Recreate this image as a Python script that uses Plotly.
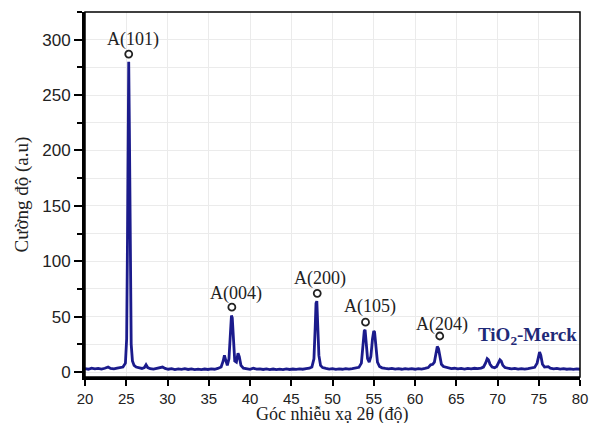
import plotly.graph_objects as go

two_theta = [20.0, 20.4, 20.8, 21.2, 21.6, 22.0, 22.4, 22.8, 23.1, 23.5, 23.9, 24.3, 24.6, 24.9, 25.05, 25.15, 25.25, 25.3, 25.38, 25.48, 25.6, 25.75, 25.95, 26.2, 26.5, 26.9, 27.2, 27.4, 27.6, 27.9, 28.3, 28.7, 29.1, 29.4, 29.7, 30.1, 30.5, 30.9, 31.3, 31.7, 32.1, 32.5, 32.9, 33.3, 33.7, 34.1, 34.5, 34.9, 35.3, 35.7, 36.1, 36.5, 36.75, 36.9, 37.05, 37.25, 37.45, 37.6, 37.75, 37.85, 38.0, 38.15, 38.35, 38.55, 38.7, 38.9, 39.2, 39.6, 40.0, 40.4, 40.8, 41.2, 41.6, 42.0, 42.4, 42.8, 43.2, 43.6, 44.0, 44.4, 44.8, 45.2, 45.6, 46.0, 46.4, 46.8, 47.2, 47.5, 47.75, 47.9, 48.0, 48.1, 48.2, 48.35, 48.55, 48.8, 49.2, 49.6, 50.0, 50.4, 50.8, 51.2, 51.6, 52.0, 52.4, 52.8, 53.2, 53.5, 53.7, 53.85, 53.95, 54.1, 54.25, 54.45, 54.65, 54.85, 55.0, 55.1, 55.25, 55.45, 55.7, 56.0, 56.4, 56.8, 57.2, 57.6, 58.0, 58.4, 58.8, 59.2, 59.6, 60.0, 60.4, 60.8, 61.2, 61.6, 61.9, 62.15, 62.35, 62.55, 62.7, 62.85, 63.0, 63.2, 63.45, 63.7, 64.0, 64.4, 64.8, 65.2, 65.6, 66.0, 66.4, 66.8, 67.2, 67.6, 68.0, 68.3, 68.55, 68.75, 68.9, 69.1, 69.35, 69.65, 69.9, 70.1, 70.3, 70.45, 70.65, 70.9, 71.3, 71.7, 72.1, 72.5, 72.9, 73.3, 73.7, 74.1, 74.5, 74.8, 75.0, 75.1, 75.25, 75.45, 75.7, 75.95, 76.15, 76.4, 76.8, 77.2, 77.6, 78.0, 78.4, 78.8, 79.2, 79.6, 80.0]
intensity = [3.0, 2.5, 3.5, 2.8, 3.2, 2.6, 3.4, 4.5, 3.2, 2.8, 3.5, 3.8, 4.5, 8, 30, 120, 270, 280, 220, 90, 25, 10, 6, 4.5, 3.8, 3.2, 4.0, 6.5, 4.0, 3.0, 2.6, 3.2, 3.5, 4.5, 3.2, 2.5, 3.0, 2.2, 2.8, 2.4, 3.0, 2.3, 2.8, 2.2, 2.6, 2.1, 2.7, 2.3, 2.9, 2.5, 3.2, 4.5, 10, 15, 11, 6, 12, 35, 51, 49, 30, 10, 9, 17, 14, 6, 3.5, 2.8, 2.4, 3.5, 2.6, 2.9, 2.3, 2.8, 2.2, 2.7, 2.1, 2.6, 2.2, 2.8, 2.3, 2.7, 2.4, 2.9, 2.5, 3.0, 3.4, 4.5, 12, 40, 62, 64, 45, 15, 6, 4.0, 3.2, 2.7, 3.0, 2.4, 2.9, 2.5, 3.1, 2.6, 3.0, 3.4, 4.2, 8, 25, 37, 38, 28, 12, 9, 14, 30, 37, 36, 24, 9, 5, 3.8, 3.2, 2.8, 3.3, 2.7, 3.0, 2.5, 3.1, 2.6, 3.0, 2.5, 3.1, 2.7, 3.2, 4.0, 6.5, 7, 9, 18, 23, 21, 14, 7, 5, 4.5, 3.5, 3.0, 3.4, 2.8, 3.2, 2.7, 3.3, 2.9, 3.4, 3.0, 3.6, 4.5, 8, 12, 11, 7, 4.5, 3.8, 5, 8.5, 11, 10, 6, 4.0, 3.2, 2.8, 3.2, 2.7, 3.1, 2.6, 3.0, 3.3, 4.2, 8, 16, 18, 15, 7, 4.5, 5, 4.8, 3.5, 2.8, 3.2, 2.6, 3.0, 2.5, 2.9, 2.4, 2.8, 2.5]

peak_labels = ["A(101)", "A(004)", "A(200)", "A(105)", "A(204)"]
marker_x = [25.3, 37.8, 48.15, 54.0, 63.0]
marker_y = [287, 58.5, 71, 45, 32.5]
label_x = [25.8, 38.3, 48.5, 54.5, 63.3]
label_y = [300, 71, 84, 59, 42.5]

sample_name = "TiO<sub>2</sub>-Merck"
sample_pos = [73.6, 32.5]

x_title = "Góc nhiễu xạ 2θ (độ)"
y_title = "Cường độ (a.u)"

x_ticks = [20, 25, 30, 35, 40, 45, 50, 55, 60, 65, 70, 75, 80]
y_ticks = [0, 50, 100, 150, 200, 250, 300]

fig = go.Figure()
fig.add_trace(go.Scatter(x=two_theta, y=intensity, mode="lines",
                         line=dict(color="#1b1b8c", width=2.8), showlegend=False))
fig.add_trace(go.Scatter(x=marker_x, y=marker_y, mode="markers",
                         marker=dict(symbol="circle-open", size=7, color="#222",
                                     line=dict(width=1.8, color="#222")),
                         showlegend=False))

serif = "Liberation Serif, Times New Roman, serif"
sans = "Liberation Sans, Arial, sans-serif"
for t, x, y in zip(peak_labels, label_x, label_y):
    fig.add_annotation(x=x, y=y, text=t, showarrow=False,
                       font=dict(family=serif, size=18, color="#222"))
fig.add_annotation(x=sample_pos[0], y=sample_pos[1], text="<b>" + sample_name + "</b>",
                   showarrow=False, font=dict(family=serif, size=19, color="#1f2a78"))

# axis titles
fig.add_annotation(xref="paper", yref="paper", x=0.5, y=0, yshift=-37, yanchor="middle",
                   text=x_title, showarrow=False,
                   font=dict(family=serif, size=18, color="#222"))
fig.add_annotation(xref="paper", yref="paper", x=0, y=0.5, xshift=-64, xanchor="center",
                   text=y_title, textangle=-90, showarrow=False,
                   font=dict(family=serif, size=19, color="#222"))

fig.add_shape(type="rect", xref="paper", yref="paper", x0=0, y0=0, x1=1, y1=1,
              line=dict(color="black", width=1.5), layer="above")

fig.update_layout(
    width=589, height=423,
    margin=dict(l=85, r=9, t=12, b=46),
    paper_bgcolor="white", plot_bgcolor="white",
    xaxis=dict(range=[20, 80], tickvals=x_ticks, ticks="outside", ticklen=6, tickwidth=2,
               tickcolor="black", showline=True, linewidth=3, linecolor="black",
               showgrid=True, gridcolor="#ebebeb", gridwidth=1, zeroline=False,
               automargin=False, ticklabeloverflow="allow",
               tickfont=dict(family=sans, size=15, color="#222")),
    yaxis=dict(range=[-4.5, 325], tickvals=y_ticks, ticks="outside", ticklen=8, tickwidth=2,
               tickcolor="black", showline=True, linewidth=3, linecolor="black",
               showgrid=True, gridcolor="#ebebeb", gridwidth=1, zeroline=False,
               automargin=False,
               minor=dict(dtick=25, tick0=0, ticks="outside", ticklen=5, tickwidth=2,
                          tickcolor="black", showgrid=True, gridcolor="#ebebeb"),
               tickfont=dict(family=sans, size=17, color="#222")),
)

fig.write_html("out.html", config={"displayModeBar": False},
               post_script="document.body.style.margin='0';document.body.style.overflow='hidden';")
